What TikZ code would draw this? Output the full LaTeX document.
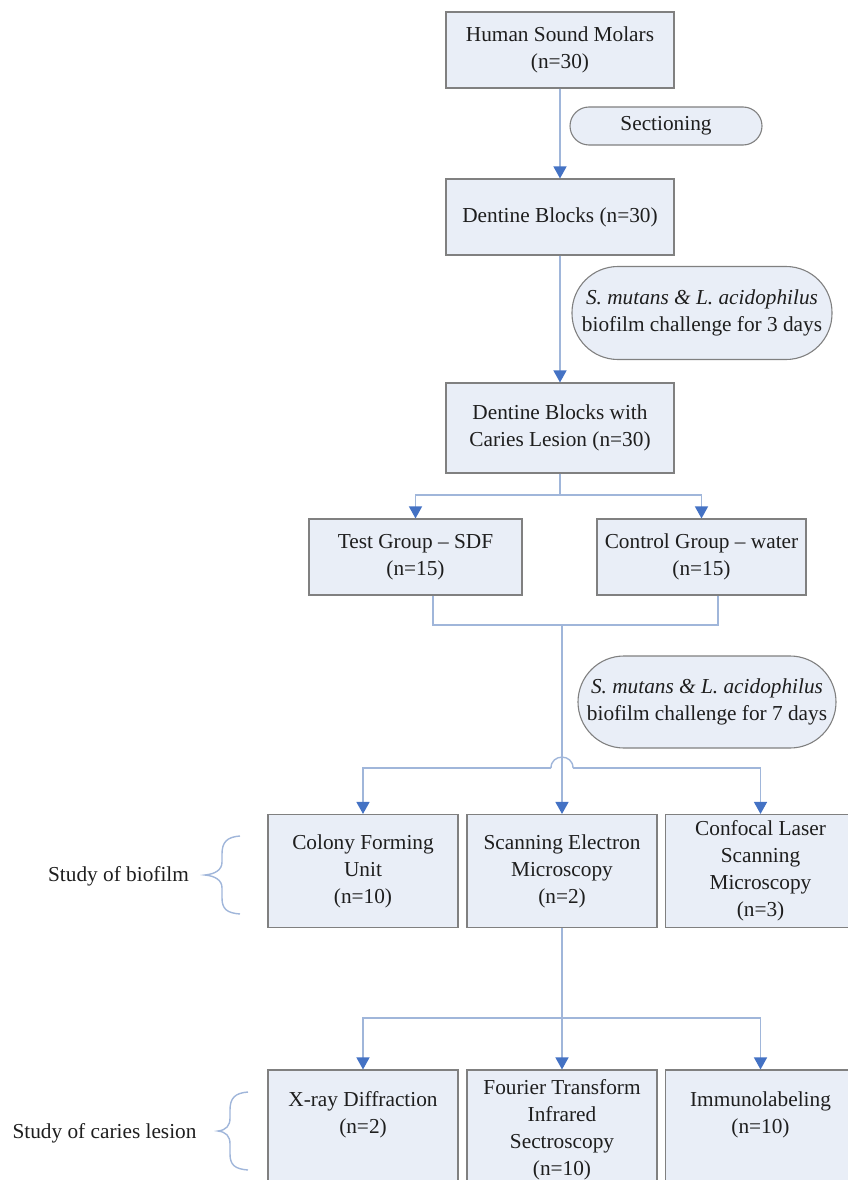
\documentclass[tikz,border=0pt]{standalone}
\usepackage{fontspec}
\setmainfont{Liberation Serif}
\usetikzlibrary{arrows.meta}
\definecolor{boxfill}{RGB}{233,238,247}
\definecolor{boxdraw}{RGB}{128,128,128}
\definecolor{linecol}{RGB}{160,182,218}
\definecolor{arrowcol}{RGB}{68,114,196}
\definecolor{textcol}{RGB}{30,30,30}
\begin{document}
\begin{tikzpicture}[x=1pt,y=-1pt,
  font=\fontsize{21.3}{27}\selectfont,
  box/.style={draw=boxdraw, fill=boxfill, line width=1.1pt, align=center, inner sep=0pt, text=textcol},
  oval/.style={box},
  conn/.style={draw=linecol, line width=1.4pt},
  arr/.style={conn, -{Triangle[width=13pt,length=12pt,color=arrowcol]}},
  lbl/.style={text=textcol, inner sep=0pt},
  bracestyle/.style={draw=linecol, line width=1.4pt}
]
\useasboundingbox (0,0) rectangle (848,1180);
\clip (0,0) rectangle (848,1180);

% top chain
\node[box, minimum width=228pt, minimum height=76pt] (b1) at (560,50) {Human Sound Molars\\(n=30)};
\node[oval, minimum width=192pt, minimum height=38pt, rounded corners=19pt] (sec) at (666,126) {Sectioning};
\node[box, minimum width=228pt, minimum height=76pt] (b2) at (560,217) {Dentine Blocks (n=30)};
\node[oval, minimum width=260pt, minimum height=93pt, rounded corners=46pt] (o3) at (702,313) {\textit{S. mutans \& L. acidophilus}\\biofilm challenge for 3 days};
\node[box, minimum width=228pt, minimum height=90pt] (b3) at (560,428) {Dentine Blocks with\\Caries Lesion (n=30)};

% groups
\node[box, minimum width=213pt, minimum height=76pt] (test) at (415.5,557) {Test Group -- SDF\\(n=15)};
\node[box, minimum width=209pt, minimum height=76pt] (ctrl) at (701.5,557) {Control Group -- water\\(n=15)};
\node[oval, minimum width=258pt, minimum height=92pt, rounded corners=46pt] (o7) at (707,702) {\textit{S. mutans \& L. acidophilus}\\biofilm challenge for 7 days};

% biofilm studies
\node[box, minimum width=190pt, minimum height=113pt] (cfu) at (363,871) {Colony Forming\\Unit\\(n=10)};
\node[box, minimum width=190pt, minimum height=113pt] (sem) at (562,871) {Scanning Electron\\Microscopy\\(n=2)};
\node[box, minimum width=190pt, minimum height=113pt] (clsm) at (760.5,871) {Confocal Laser\\Scanning\\Microscopy\\(n=3)};

% caries studies
\node[box, minimum width=190pt, minimum height=130pt] (xrd) at (363,1135) {};
\node[box, minimum width=190pt, minimum height=130pt] (ftir) at (562,1135) {};
\node[box, minimum width=190pt, minimum height=130pt] (imm) at (760.5,1135) {};
\node[lbl, align=center] (xrdt) at (363,1115) {X-ray Diffraction\\(n=2)};
\node[lbl, align=center] (ftirt) at (562,1130) {Fourier Transform\\Infrared\\Sectroscopy\\(n=10)};
\node[lbl, align=center] (immt) at (760.5,1115) {Immunolabeling\\(n=10)};

% side labels
\node[lbl] (bio) at (118.5,876) {Study of biofilm};
\node[lbl] (car) at (104.5,1133) {Study of caries lesion};

% connectors
\draw[arr] (b1.south) -- (b2.north);
\draw[arr] (b2.south) -- (b3.north);
\coordinate (split1) at (560,495);
\draw[conn] (b3.south) -- (split1);
\draw[arr] (split1) -| (test.north);
\draw[arr] (split1) -| (ctrl.north);

\coordinate (merge) at (562,625);
\draw[conn] ([xshift=17.5pt]test.south) |- (merge) -| ([xshift=16.5pt]ctrl.south);
\draw[arr] (merge) -- (sem.north);

\coordinate (jl) at (551,768);
\coordinate (jr) at (573,768);
\draw[arr] (jl) -| (cfu.north);
\draw[arr] (jr) -| (clsm.north);
\draw[conn] (jl) .. controls ([yshift=14.5pt]jl) and ([yshift=14.5pt]jr) .. (jr);

\coordinate (split2) at (562,1018);
\draw[conn] (sem.south) -- (split2);
\draw[arr] (split2) -| (xrd.north);
\draw[arr] (split2) -| (imm.north);
\draw[arr] (split2) -- (ftir.north);

% braces
\draw[bracestyle] (240,836) .. controls (227,837) and (222,842) .. (222,854) -- (222,862)
  .. controls (222,870) and (215,874) .. (205,875)
  .. controls (215,876) and (222,880) .. (222,888) -- (222,898)
  .. controls (222,909) and (227,913) .. (240,914);
\draw[bracestyle] (248,1092) .. controls (235,1093) and (230,1098) .. (230,1110) -- (230,1118)
  .. controls (230,1126) and (226,1130) .. (218,1131)
  .. controls (226,1132) and (230,1136) .. (230,1144) -- (230,1154)
  .. controls (230,1165) and (235,1169) .. (248,1170);
\end{tikzpicture}
\end{document}
